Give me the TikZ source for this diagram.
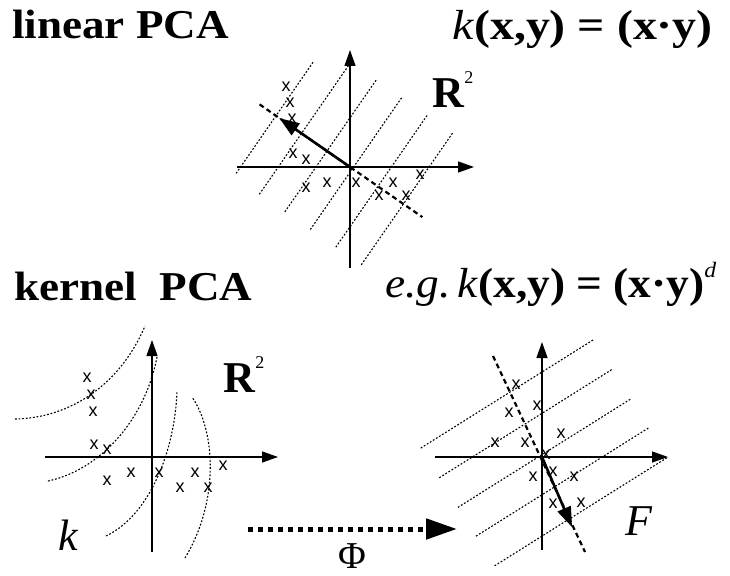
\documentclass[tikz,border=0pt]{standalone}
\usepackage{fontspec}
\setmainfont{Liberation Serif}
\setsansfont{Liberation Sans}
\usetikzlibrary{arrows.meta,calc}

\begin{document}
\begin{tikzpicture}[x=1pt,y=-1pt,
  axis/.style={line width=1.3pt,-{Triangle[length=16pt,width=11pt]}},
  level/.style={line width=1.1pt,dash pattern=on 1.8pt off 1.8pt},
  pcline/.style={line width=2.2pt,dash pattern=on 5pt off 3.5pt},
  pcvec/.style={line width=2.6pt,-{Triangle[length=20pt,width=14pt]}},
  maparrow/.style={line width=5pt,dash pattern=on 5pt off 5pt,-{Triangle[length=31pt,width=20pt]}},
  cross/.style={inner sep=0pt,font=\sffamily\fontsize{18}{18}\selectfont},
  title/.style={inner sep=0pt,anchor=base west,xscale=1.1,font=\bfseries\fontsize{41}{41}\selectfont},
  formula/.style={inner sep=0pt,anchor=base west,font=\fontsize{42}{42}\selectfont},
  big/.style={inner sep=0pt,anchor=base west,font=\fontsize{44}{44}\selectfont}
]
\useasboundingbox (0,0) rectangle (730,575);

% headings
\node[title] (lin) at (12,39) {linear PCA};
\node[formula,xscale=1.14] (klin) at (452,40) {\textit{k}\textbf{(x,y) = (x·y)}};
\node[title] (ker) at (14,300) {kernel\ \ PCA};
\node[formula,xscale=1.08] (kpol) at (385,297) {\textit{e.g.\hspace{0.15em}k}\textbf{(x,y) = (x·y)}\raisebox{20pt}{\fontsize{22}{22}\selectfont\textit{d}}};

% linear PCA in R^2
\coordinate (o1) at (350,167);
\begin{scope}[shift={(o1)},rotate=-34.7]
  \foreach \t/\a/\b in {-90/70/-66,-59/74/-87,-28/74/-87,3/74/-87,34/74/-87,65/74/-87}
    \draw[level] (\t,\a) -- (\t,\b);
  \draw[pcline] (-110,0) -- (88,0);
\end{scope}
\draw[axis] ($(o1)+(-113,0)$) -- ($(o1)+(124,0)$);
\draw[axis] ($(o1)+(0,101)$) -- ($(o1)+(0,-117)$);
\foreach \p [count=\i] in {(286,87),(290,103),(292,119),(293,154),(306,160),(306,188),
    (327,183),(356,183),(379,196),(393,183),(406,196),(420,175)}
  \node[cross] (a\i) at \p {x};
\begin{scope}[shift={(o1)},rotate=-34.7]
  \draw[pcvec] (0,0) -- (-86,0);
\end{scope}
\node[big] (r1) at (432,107) {\textbf{R}\raisebox{24pt}{\fontsize{18}{18}\selectfont 2}};

% kernel PCA, input space
\coordinate (o2) at (152,457);
\draw[level] (15,419) .. controls (70,418) and (120,385) .. (145,326);
\draw[level] (48,481) .. controls (100,470) and (145,420) .. (157,357);
\draw[level] (106,536) .. controls (150,515) and (175,450) .. (177,391);
\draw[level] (185,558) .. controls (220,500) and (215,430) .. (192,397);
\draw[axis] ($(o2)+(-107,0)$) -- ($(o2)+(126,0)$);
\draw[axis] ($(o2)+(0,95)$) -- ($(o2)+(0,-117)$);
\foreach \p [count=\i] in {(87,378),(91,395),(93,412),(94,445),(107,450),(107,481),
    (131,473),(159,473),(180,488),(195,473),(208,488),(223,466)}
  \node[cross] (b\i) at \p {x};
\node[big] (r2) at (223,392) {\textbf{R}\raisebox{24pt}{\fontsize{18}{18}\selectfont 2}};
\node[big] (kk) at (58,550) {\textit{k}};

% the map
\coordinate (m1) at (248,529);
\coordinate (m2) at (457,529);
\draw[maparrow] (m1) -- (m2);
\node[big,anchor=base,font=\fontsize{38}{38}\selectfont] (phi) at (352,568) {Φ};

% feature space F
\coordinate (o3) at (542,457);
\begin{scope}[shift={(o3)},rotate=32.1]
  \foreach \b in {-72,-37,-2,32,67}
    \draw[level] (-98,\b) -- (106,\b);
\end{scope}
\draw[pcline] ($(o3)+(-49,-101)$) -- ($(o3)+(43,95)$);
\draw[axis] ($(o3)+(-107,0)$) -- ($(o3)+(126,0)$);
\draw[axis] ($(o3)+(0,93)$) -- ($(o3)+(0,-115)$);
\foreach \p [count=\i] in {(516,385),(537,406),(509,413),(561,434),(495,443),(525,443),
    (546,455),(553,472),(533,477),(574,477),(553,504),(581,503)}
  \node[cross] (c\i) at \p {x};
\draw[pcvec] (o3) -- ($(o3)+(30,70)$);
\node[big] (ff) at (625,535) {\textit{F}};
\end{tikzpicture}
\end{document}
